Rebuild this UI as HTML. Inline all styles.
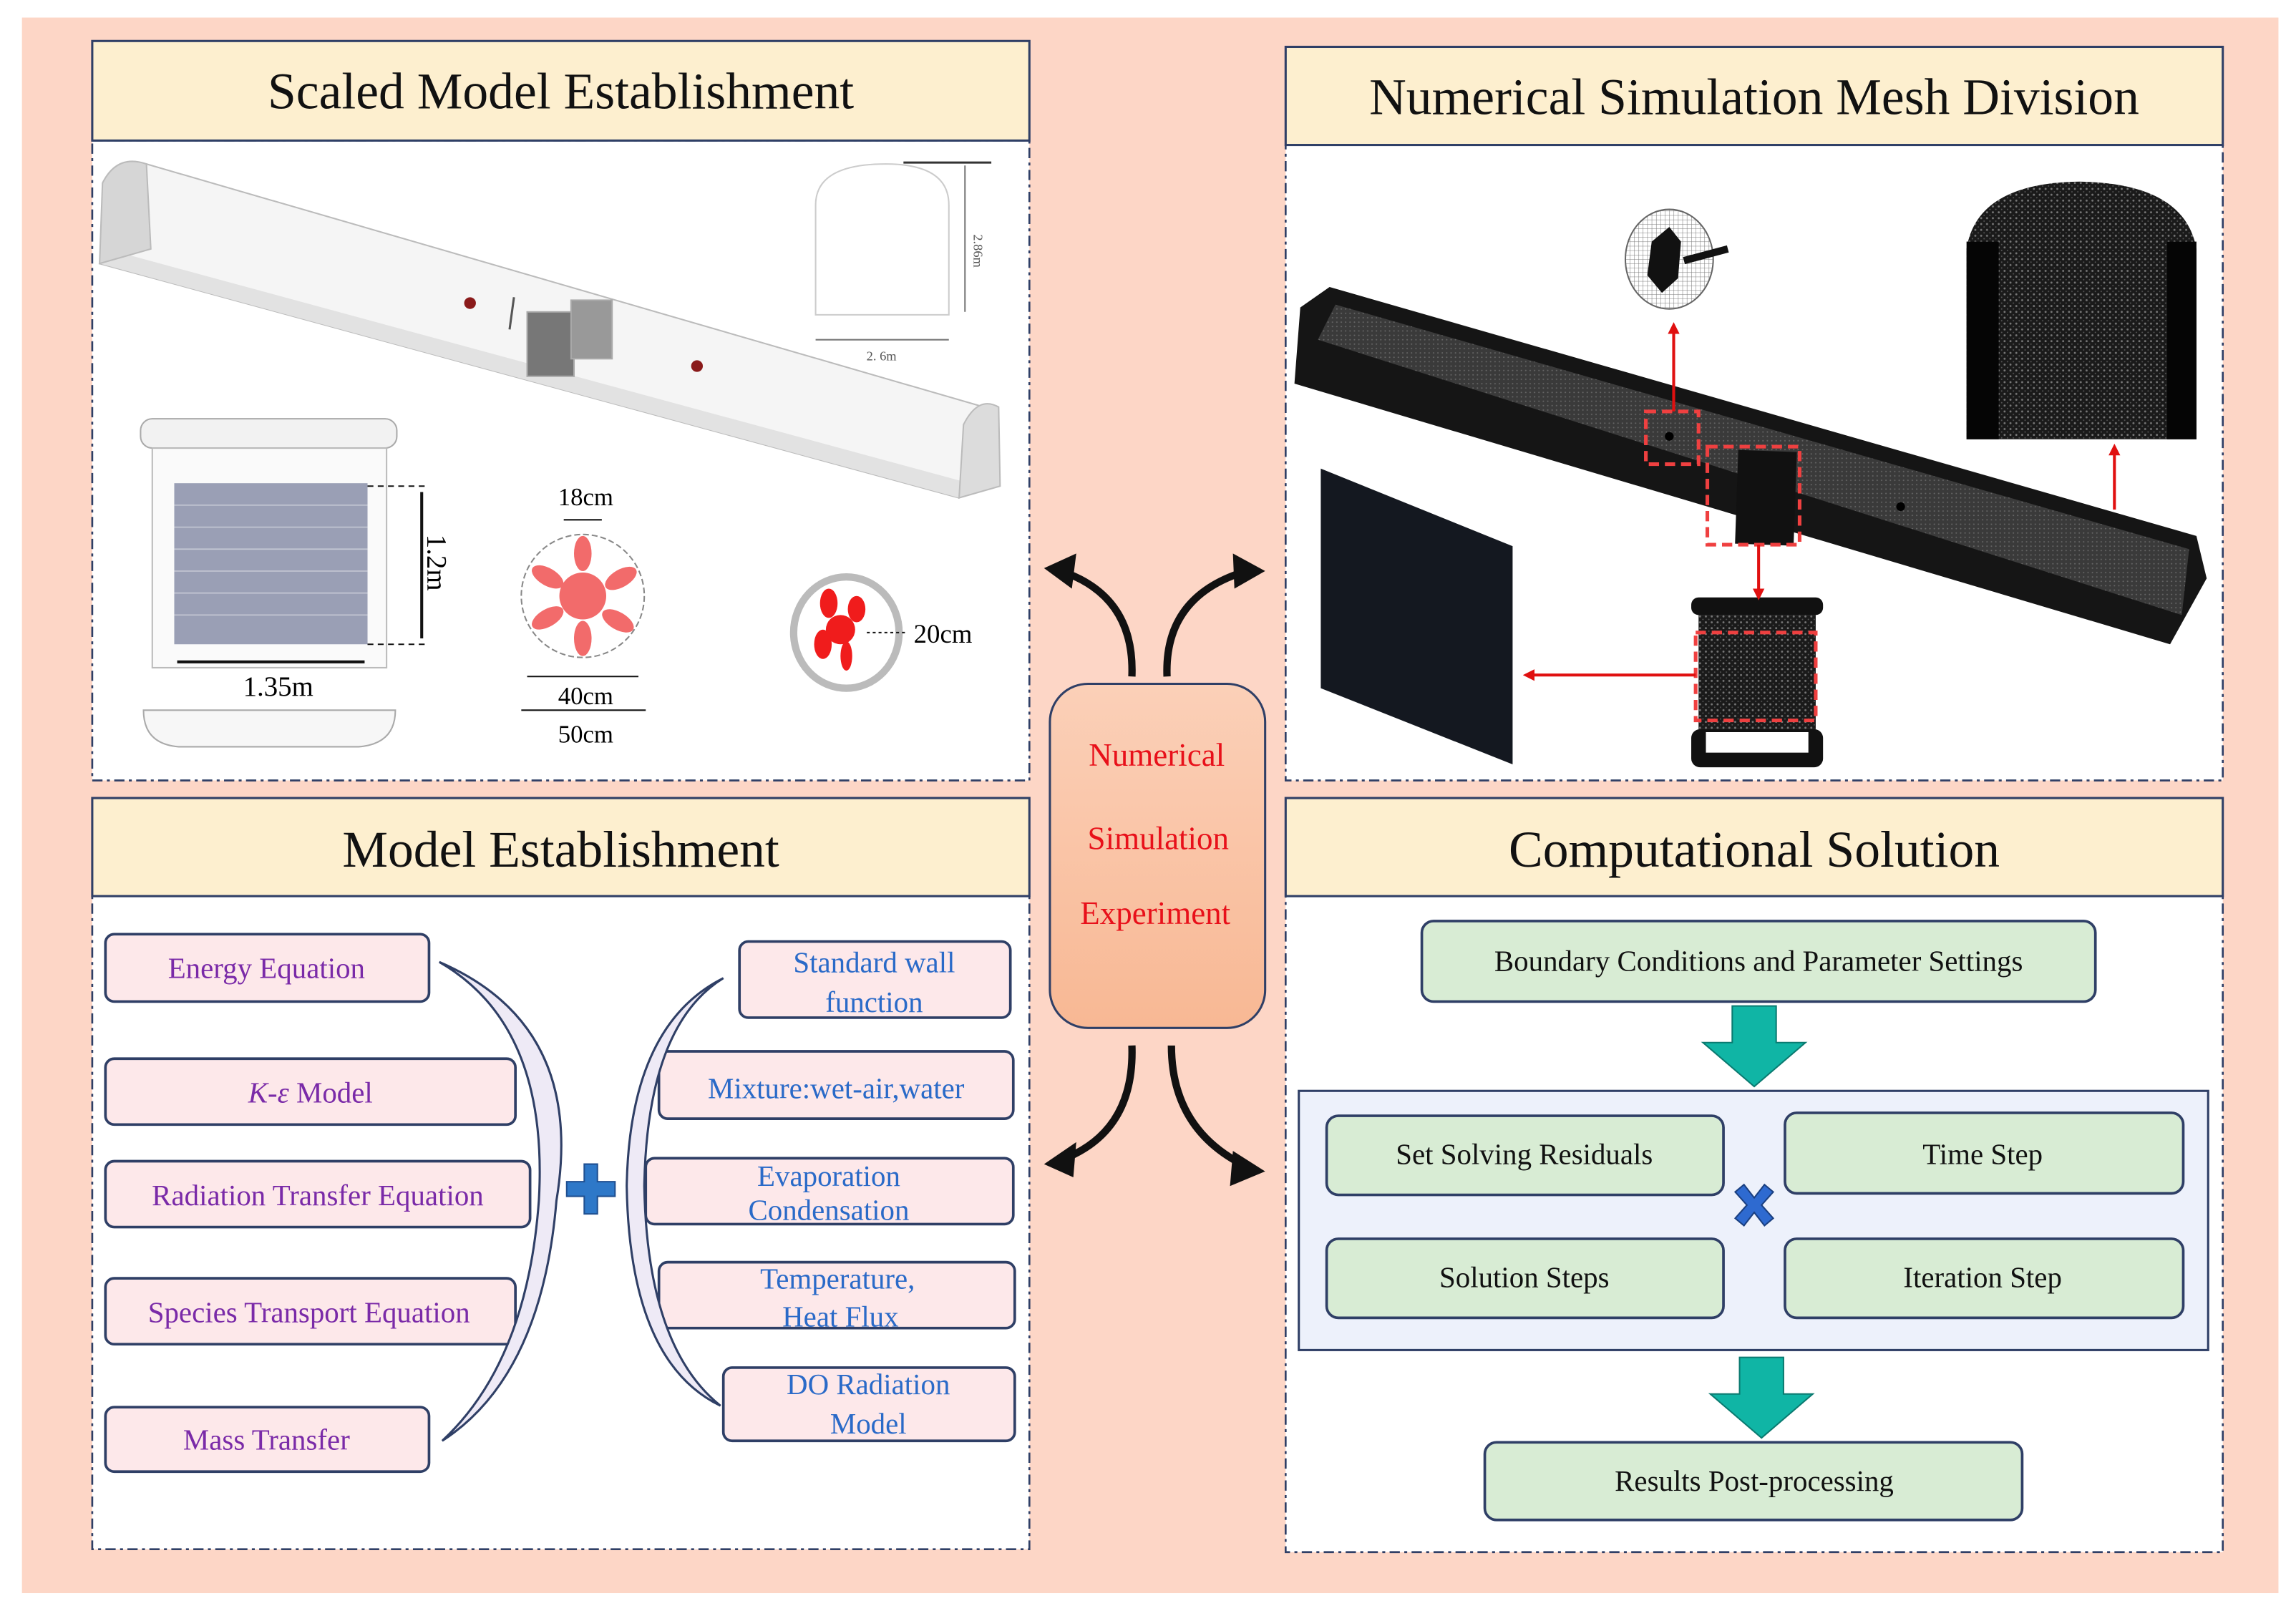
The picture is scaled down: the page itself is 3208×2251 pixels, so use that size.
<!DOCTYPE html>
<html><head><meta charset="utf-8"><style>
html,body{margin:0;padding:0;background:#fff;}
svg{display:block;}
text{font-family:"Liberation Serif",serif;}
</style></head><body>
<svg width="3208" height="2251" viewBox="0 0 1568 1100.2" preserveAspectRatio="none" xmlns="http://www.w3.org/2000/svg">
<defs>
<linearGradient id="cg" x1="0" y1="0" x2="0" y2="1"><stop offset="0" stop-color="#fbd0b8"/><stop offset="1" stop-color="#f8b894"/></linearGradient>
<marker id="ra" markerWidth="8" markerHeight="8" refX="6" refY="4" orient="auto" markerUnits="userSpaceOnUse"><path d="M0,0 L8,4 L0,8z" fill="#e01010"/></marker>
<pattern id="mesh" width="4" height="4" patternUnits="userSpaceOnUse"><rect width="4" height="4" fill="#1a1a1a"/><circle cx="1" cy="1" r="0.7" fill="#777"/><circle cx="3" cy="3" r="0.5" fill="#555"/></pattern>
<pattern id="mesh2" width="3" height="3" patternUnits="userSpaceOnUse"><rect width="3" height="3" fill="#3a3a3a"/><circle cx="1" cy="1" r="0.5" fill="#666"/></pattern>
<pattern id="grid" width="3" height="3" patternUnits="userSpaceOnUse"><rect width="3" height="3" fill="#fff"/><path d="M0,0 H3 M0,0 V3" stroke="#777" stroke-width="0.5"/></pattern>
</defs>
<rect x="15" y="12" width="1541" height="1076" fill="#fdd6c6"/>

<!-- Panel 1 -->
<rect x="63" y="96" width="640" height="437" fill="#fff" stroke="#2f3f66" stroke-width="1.3" stroke-dasharray="7,3,2,3"/>
<rect x="63" y="28" width="640" height="68" fill="#fdefcf" stroke="#2f3f66" stroke-width="1.5"/>
<text x="383" y="74" font-size="35" text-anchor="middle" fill="#111">Scaled Model Establishment</text>
<polygon points="68,180 100,112 672,278 682,300 655,340" fill="#f5f5f5" stroke="#bbb" stroke-width="1"/>
<polygon points="68,180 655,340 662,330 80,172" fill="#e2e2e2"/>
<path d="M68,180 L70,125 Q80,105 100,112 L103,170z" fill="#d6d6d6" stroke="#bbb"/>
<path d="M655,340 L658,290 Q668,270 682,278 L683,332z" fill="#dcdcdc" stroke="#bbb"/>
<circle cx="321" cy="207" r="4" fill="#8a1a1a"/><circle cx="476" cy="250" r="4" fill="#8a1a1a"/>
<line x1="351" y1="203" x2="348" y2="225" stroke="#555" stroke-width="1.5"/>
<rect x="360" y="213" width="32" height="44" fill="#777" stroke="#aaa"/>
<rect x="390" y="205" width="28" height="40" fill="#999" stroke="#aaa"/>
<path d="M557,215 L557,140 Q557,112 605,112 Q648,112 648,140 L648,215z" fill="#fff" stroke="#ccc"/>
<line x1="617" y1="111" x2="677" y2="111" stroke="#333" stroke-width="1.5"/>
<line x1="659" y1="113" x2="659" y2="213" stroke="#777"/>
<line x1="557" y1="232" x2="648" y2="232" stroke="#777"/>
<text x="665" y="160" font-size="9" fill="#555" transform="rotate(90 665 160)">2.86m</text>
<text x="602" y="246" font-size="9" fill="#555" text-anchor="middle">2. 6m</text>
<rect x="96" y="286" width="175" height="20" rx="8" fill="#f2f2f2" stroke="#aaa"/>
<rect x="104" y="306" width="160" height="150" fill="#fafafa" stroke="#bbb"/>
<rect x="119" y="330" width="132" height="110" fill="#9a9fb5"/>
<g stroke="#c4c7d4" stroke-width="0.8"><line x1="119" y1="345" x2="251" y2="345"/><line x1="119" y1="360" x2="251" y2="360"/><line x1="119" y1="375" x2="251" y2="375"/><line x1="119" y1="390" x2="251" y2="390"/><line x1="119" y1="405" x2="251" y2="405"/><line x1="119" y1="420" x2="251" y2="420"/></g>
<path d="M98,485 L270,485 Q270,508 245,510 L122,510 Q98,508 98,485z" fill="#f7f7f7" stroke="#aaa"/>
<line x1="251" y1="332" x2="290" y2="332" stroke="#111" stroke-dasharray="4,3"/>
<line x1="251" y1="440" x2="290" y2="440" stroke="#111" stroke-dasharray="4,3"/>
<line x1="288" y1="336" x2="288" y2="436" stroke="#111" stroke-width="2"/>
<line x1="121" y1="452" x2="249" y2="452" stroke="#111" stroke-width="2"/>
<text x="292" y="365" font-size="19" transform="rotate(90 292 365)">1.2m</text>
<text x="190" y="475" font-size="19" text-anchor="middle">1.35m</text>
<circle cx="398" cy="407" r="42" fill="#fff" stroke="#888" stroke-dasharray="4,2"/>
<g fill="#f26b6b"><circle cx="398" cy="407" r="16"/><ellipse cx="398" cy="378" rx="6" ry="12"/><ellipse cx="424" cy="395" rx="6" ry="12" transform="rotate(60 424 395)"/><ellipse cx="422" cy="424" rx="6" ry="12" transform="rotate(120 422 424)"/><ellipse cx="398" cy="436" rx="6" ry="12"/><ellipse cx="374" cy="422" rx="6" ry="12" transform="rotate(60 374 422)"/><ellipse cx="374" cy="394" rx="6" ry="12" transform="rotate(120 374 394)"/></g>
<line x1="385" y1="355" x2="411" y2="355" stroke="#111"/>
<line x1="360" y1="462" x2="436" y2="462" stroke="#111"/>
<line x1="356" y1="485" x2="441" y2="485" stroke="#111"/>
<text x="400" y="345" font-size="17" text-anchor="middle">18cm</text>
<text x="400" y="481" font-size="17" text-anchor="middle">40cm</text>
<text x="400" y="507" font-size="17" text-anchor="middle">50cm</text>
<ellipse cx="578" cy="432" rx="36" ry="38" fill="#fff" stroke="#bbb" stroke-width="5"/>
<g fill="#f01c1c"><circle cx="574" cy="430" r="10"/><ellipse cx="566" cy="412" rx="6" ry="10"/><ellipse cx="585" cy="416" rx="6" ry="9"/><ellipse cx="562" cy="440" rx="6" ry="10"/><ellipse cx="578" cy="448" rx="4" ry="10"/></g>
<line x1="592" y1="432" x2="620" y2="432" stroke="#111" stroke-dasharray="2,2"/>
<text x="624" y="439" font-size="18">20cm</text>

<!-- Panel 2 -->
<rect x="878" y="99" width="640" height="434" fill="#fff" stroke="#2f3f66" stroke-width="1.3" stroke-dasharray="7,3,2,3"/>
<rect x="878" y="32" width="640" height="67" fill="#fdefcf" stroke="#2f3f66" stroke-width="1.5"/>
<text x="1198" y="78" font-size="35" text-anchor="middle" fill="#111">Numerical Simulation Mesh Division</text>
<polygon points="884,262 888,210 908,196 1500,366 1507,395 1482,440" fill="#151515"/>
<polygon points="900,232 912,208 1495,375 1490,420" fill="url(#mesh2)"/>
<rect x="1186" y="308" width="40" height="64" fill="#111" transform="rotate(2 1206 340)"/>
<circle cx="1140" cy="298" r="3" fill="#000"/><circle cx="1298" cy="346" r="3" fill="#000"/>
<path d="M1343,300 L1343,170 Q1350,125 1420,124 Q1492,125 1500,170 L1500,300z" fill="url(#mesh)"/>
<rect x="1343" y="165" width="22" height="135" fill="#050505"/><rect x="1480" y="165" width="20" height="135" fill="#050505"/>
<polygon points="902,320 1033,373 1033,522 902,470" fill="#141820"/>
<rect x="1155" y="408" width="90" height="12" rx="5" fill="#111"/>
<rect x="1160" y="420" width="80" height="78" fill="url(#mesh)"/>
<rect x="1155" y="498" width="90" height="26" rx="6" fill="#111"/><rect x="1165" y="500" width="70" height="14" fill="#fff"/>
<ellipse cx="1140" cy="177" rx="30" ry="34" fill="url(#grid)" stroke="#666"/>
<path d="M1128,165 L1140,155 L1148,165 L1146,190 L1135,200 L1125,188z" fill="#111"/>
<line x1="1150" y1="178" x2="1180" y2="170" stroke="#111" stroke-width="5"/>
<g fill="none" stroke="#ef4040" stroke-width="2.5" stroke-dasharray="7,4">
<rect x="1124" y="281" width="36" height="36"/><rect x="1166" y="305" width="63" height="67"/><rect x="1158" y="432" width="82" height="60"/></g>
<g stroke="#e01010" stroke-width="2" marker-end="url(#ra)">
<line x1="1143" y1="281" x2="1143" y2="222"/><line x1="1201" y1="372" x2="1201" y2="408"/><line x1="1158" y1="461" x2="1042" y2="461"/><line x1="1444" y1="348" x2="1444" y2="305"/></g>

<!-- Panel 3 -->
<rect x="63" y="612" width="640" height="446" fill="#fff" stroke="#2f3f66" stroke-width="1.3" stroke-dasharray="7,3,2,3"/>
<rect x="63" y="545" width="640" height="67" fill="#fdefcf" stroke="#2f3f66" stroke-width="1.5"/>
<text x="383" y="592" font-size="35" text-anchor="middle" fill="#111">Model Establishment</text>
<g fill="#fde8ea" stroke="#2f3f66" stroke-width="1.8">
<rect x="72" y="638" width="221" height="46" rx="6"/><rect x="72" y="723" width="280" height="45" rx="6"/><rect x="72" y="793" width="290" height="45" rx="6"/><rect x="72" y="873" width="280" height="45" rx="6"/><rect x="72" y="961" width="221" height="44" rx="6"/>
<rect x="505" y="643" width="185" height="52" rx="6"/><rect x="450" y="718" width="242" height="46" rx="6"/><rect x="441" y="791" width="251" height="45" rx="6"/><rect x="450" y="862" width="243" height="45" rx="6"/><rect x="494" y="934" width="199" height="50" rx="6"/></g>
<g fill="#7a2aa8" font-size="20" text-anchor="middle">
<text x="182" y="668">Energy Equation</text>
<text x="212" y="753"><tspan font-style="italic">K</tspan>-<tspan font-style="italic">ε</tspan> Model</text>
<text x="217" y="823">Radiation Transfer Equation</text>
<text x="211" y="903">Species Transport Equation</text>
<text x="182" y="990">Mass Transfer</text></g>
<g fill="#2a6ac8" font-size="20" text-anchor="middle">
<text x="597" y="664">Standard wall</text><text x="597" y="691">function</text>
<text x="571" y="750">Mixture:wet-air,water</text>
<text x="566" y="810">Evaporation</text><text x="566" y="833">Condensation</text>
<text x="572" y="880">Temperature,</text><text x="574" y="906">Heat Flux</text>
<text x="593" y="952">DO Radiation</text><text x="593" y="979">Model</text></g>
<path d="M300,657 Q400,700 380,820 Q370,940 302,984 Q360,930 368,820 Q375,700 300,657z" fill="#eeeaf6" stroke="#2f3f66" stroke-width="1.5"/>
<path d="M494,668 Q430,700 428,810 Q430,930 492,960 Q442,920 440,810 Q442,700 494,668z" fill="#eeeaf6" stroke="#2f3f66" stroke-width="1.5"/>
<path d="M399,795 h9 v12 h12 v10 h-12 v12 h-9 v-12 h-12 v-10 h12z" fill="#2e78c8" stroke="#1f4f90"/>

<!-- Panel 4 -->
<rect x="878" y="612" width="640" height="448" fill="#fff" stroke="#2f3f66" stroke-width="1.3" stroke-dasharray="7,3,2,3"/>
<rect x="878" y="545" width="640" height="67" fill="#fdefcf" stroke="#2f3f66" stroke-width="1.5"/>
<text x="1198" y="592" font-size="35" text-anchor="middle" fill="#111">Computational Solution</text>
<rect x="887" y="745" width="621" height="177" fill="#edf1fb" stroke="#2f3f66" stroke-width="1.5"/>
<g fill="#d8ecd4" stroke="#2f3f66" stroke-width="1.8">
<rect x="971" y="629" width="460" height="55" rx="8"/>
<rect x="906" y="762" width="271" height="54" rx="8"/><rect x="1219" y="760" width="272" height="55" rx="8"/>
<rect x="906" y="846" width="271" height="54" rx="8"/><rect x="1219" y="846" width="272" height="54" rx="8"/>
<rect x="1014" y="985" width="367" height="53" rx="8"/></g>
<g fill="#111" font-size="20" text-anchor="middle">
<text x="1201" y="663">Boundary Conditions and Parameter Settings</text>
<text x="1041" y="795">Set Solving Residuals</text><text x="1354" y="795">Time Step</text>
<text x="1041" y="879">Solution Steps</text><text x="1354" y="879">Iteration Step</text>
<text x="1198" y="1018">Results Post-processing</text></g>
<path d="M1183,687 h30 v25 h20 l-35,30 l-35,-30 h20z" fill="#10b5a5" stroke="#0a7a70"/>
<path d="M1188,927 h30 v25 h20 l-35,30 l-35,-30 h20z" fill="#10b5a5" stroke="#0a7a70"/>
<path d="M1185,814 l6,-5 l7,9 l7,-9 l6,5 l-8,9 l8,9 l-6,5 l-7,-9 l-7,9 l-6,-5 l8,-9z" fill="#2e6ad0" stroke="#1a3f80"/>

<!-- center -->
<rect x="717" y="467" width="147" height="235" rx="26" fill="url(#cg)" stroke="#2f3f66" stroke-width="1.5"/>
<g fill="#e8101a" font-size="22" text-anchor="middle">
<text x="790" y="523">Numerical</text><text x="791" y="580">Simulation</text><text x="789" y="631">Experiment</text></g>
<g fill="none" stroke="#111" stroke-width="5">
<path d="M773,462 Q775,410 730,392"/><path d="M797,462 Q795,410 845,392"/>
<path d="M773,714 Q775,770 730,790"/><path d="M800,714 Q800,770 848,795"/></g>
<g fill="#111">
<path d="M713,388 L735,378 L732,402z"/><path d="M864,390 L842,378 L843,402z"/>
<path d="M713,795 L735,780 L733,804z"/><path d="M864,800 L842,786 L840,810z"/></g>
</svg>
</body></html>
